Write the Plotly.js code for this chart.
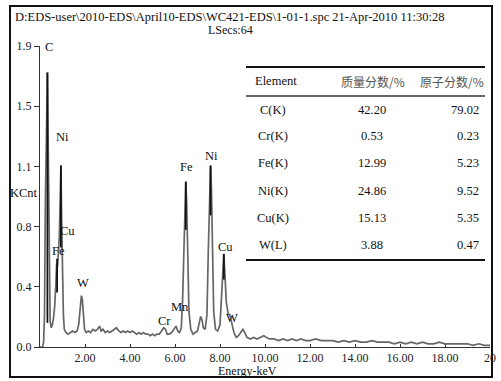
<!DOCTYPE html>
<html>
<head>
<meta charset="utf-8">
<script src="https://cdn.plot.ly/plotly-3.0.1.min.js"></script>
<style>html,body{margin:0;padding:0;background:#fff;}#chart{width:501px;height:381px;}</style>
</head>
<body>
<div id="chart"></div>
<script>
// ---- Data ----
var energy = [0.00,0.12,0.16,0.20,0.24,0.28,0.33,0.37,0.41,0.45,0.50,0.55,0.60,0.65,0.70,0.74,0.78,0.82,0.86,0.90,0.93,0.96,1.00,1.04,1.08,1.15,1.25,1.35,1.45,1.55,1.65,1.72,1.78,1.84,1.88,1.93,1.98,2.05,2.15,2.25,2.35,2.45,2.55,2.65,2.72,2.80,2.90,3.00,3.10,3.20,3.30,3.40,3.50,3.60,3.70,3.80,3.90,4.00,4.10,4.20,4.30,4.40,4.50,4.60,4.70,4.80,4.90,5.00,5.10,5.20,5.30,5.40,5.50,5.58,5.65,5.75,5.85,5.95,6.05,6.12,6.20,6.28,6.34,6.40,6.44,6.48,6.52,6.57,6.62,6.70,6.80,6.90,7.00,7.08,7.14,7.20,7.26,7.34,7.42,7.48,7.53,7.58,7.62,7.67,7.72,7.80,7.90,8.00,8.06,8.12,8.17,8.22,8.28,8.36,8.44,8.52,8.62,8.72,8.82,8.92,9.02,9.10,9.20,9.35,9.50,9.65,9.80,9.95,10.05,10.20,10.40,10.60,10.80,11.00,11.20,11.40,11.60,11.80,12.00,12.25,12.50,12.75,13.00,13.25,13.50,13.75,14.00,14.25,14.50,14.75,15.00,15.25,15.50,15.75,16.00,16.25,16.50,16.75,17.00,17.25,17.50,17.75,18.00,18.25,18.50,18.75,19.00,19.25,19.50,19.75,20.00];
var kcnt = [0.00,0.00,0.03,0.20,0.92,1.40,1.71,1.20,0.45,0.16,0.12,0.14,0.18,0.25,0.38,0.52,0.50,0.60,0.69,0.95,1.13,0.80,0.45,0.20,0.11,0.09,0.08,0.09,0.10,0.09,0.10,0.14,0.25,0.32,0.30,0.18,0.11,0.09,0.10,0.09,0.11,0.10,0.11,0.13,0.10,0.11,0.09,0.10,0.09,0.10,0.11,0.12,0.10,0.09,0.10,0.09,0.10,0.09,0.10,0.09,0.08,0.09,0.08,0.09,0.08,0.08,0.07,0.08,0.07,0.08,0.08,0.10,0.12,0.11,0.08,0.08,0.09,0.11,0.13,0.10,0.09,0.12,0.30,0.62,0.88,1.03,0.90,0.55,0.22,0.11,0.08,0.09,0.10,0.15,0.19,0.17,0.12,0.11,0.20,0.60,0.95,1.13,0.98,0.55,0.22,0.11,0.10,0.14,0.30,0.50,0.58,0.45,0.28,0.21,0.20,0.15,0.09,0.06,0.07,0.09,0.11,0.09,0.06,0.05,0.06,0.05,0.06,0.07,0.06,0.05,0.05,0.04,0.05,0.04,0.05,0.04,0.05,0.04,0.04,0.05,0.04,0.04,0.04,0.03,0.04,0.03,0.04,0.03,0.03,0.04,0.03,0.03,0.03,0.02,0.03,0.02,0.03,0.02,0.03,0.02,0.02,0.03,0.02,0.02,0.02,0.02,0.02,0.01,0.02,0.01,0.01];

// peak marker lines (energy, top, bottom)
var markE   = [0.33, 0.76, 0.93, 6.48, 7.58, 8.17];
var markTop = [1.71, 0.55, 1.13, 1.03, 1.13, 0.58];
var markBot = [0.15, 0.34, 0.62, 0.73, 0.82, 0.42];

// peak labels
var peakLabels = ["C", "Ni", "Cu", "Fe", "W", "Cr", "Mn", "Fe", "Ni", "Cu", "W"];
var peakLabelE = [0.42, 1.00, 1.22, 0.82, 1.92, 5.55, 6.22, 6.53, 7.64, 8.25, 8.55];
var peakLabelY = [1.87, 1.31, 0.72, 0.60, 0.40, 0.16, 0.25, 1.12, 1.19, 0.62, 0.18];

// axis ticks
var yTickVals = [0, 0.375, 0.75, 1.125, 1.5, 1.875];
var yTickText = ["0.0", "0.4", "0.8", "1.1", "1.5", "1.9"];
var xTickVals = [2, 4, 6, 8, 10, 12, 14, 16, 18, 20];
var xTickText = ["2.00", "4.00", "6.00", "8.00", "10.00", "12.00", "14.00", "16.00", "18.00", "20"];

// table
var tblHeader   = ["Element", "质量分数/%", "原子分数/%"];
var tblElements = ["C(K)", "Cr(K)", "Fe(K)", "Ni(K)", "Cu(K)", "W(L)"];
var tblMass     = ["42.20", "0.53", "12.99", "24.86", "15.13", "3.88"];
var tblAtomic   = ["79.02", "0.23", "5.23", "9.52", "5.35", "0.47"];

var titleLine1 = "D:EDS-user\\2010-EDS\\April10-EDS\\WC421-EDS\\1-01-1.spc 21-Apr-2010 11:30:28";
var titleLine2 = "LSecs:64";

// ---- Build ----
var mx = [], my = [];
for (var i = 0; i < markE.length; i++) {
  mx.push(markE[i], markE[i], null);
  my.push(markBot[i], markTop[i], null);
}

var serif = "Liberation Serif, Times New Roman, serif";
var traces = [
  {x: energy, y: kcnt, type: "scatter", mode: "lines",
   line: {color: "#666", width: 1.7}, hoverinfo: "skip", showlegend: false},
  {x: mx, y: my, type: "scatter", mode: "lines",
   line: {color: "#111", width: 1.8}, hoverinfo: "skip", showlegend: false}
];

// pixel -> paper helpers (plot area: x 40..490, y 46..347)
function px(x) { return (x - 40) / 450; }
function py(y) { return (347 - y) / 301; }

var ann = [];
for (var k = 0; k < peakLabels.length; k++) {
  ann.push({x: peakLabelE[k], y: peakLabelY[k], xref: "x", yref: "y", text: peakLabels[k],
            showarrow: false, font: {family: serif, size: 12.5, color: "#111"}});
}
ann.push({x: px(13), y: py(17), xref: "paper", yref: "paper", xanchor: "left", yanchor: "middle",
          text: titleLine1, showarrow: false, font: {family: serif, size: 12.5, color: "#111"}});
ann.push({x: px(230), y: py(30), xref: "paper", yref: "paper", xanchor: "center", yanchor: "middle",
          text: titleLine2, showarrow: false, font: {family: serif, size: 12, color: "#111"}});
ann.push({x: px(24), y: py(193), xref: "paper", yref: "paper", xanchor: "center", yanchor: "middle",
          text: "KCnt", showarrow: false, font: {family: serif, size: 12.5, color: "#111"}});
ann.push({x: px(247), y: py(371), xref: "paper", yref: "paper", xanchor: "center", yanchor: "middle",
          text: "Energy-keV", showarrow: false, font: {family: serif, size: 12, color: "#111"}});

// table header
var cjk = "Noto Sans CJK SC, sans-serif";
ann.push({x: px(253), y: py(81), xref: "paper", yref: "paper", xanchor: "left", yanchor: "middle",
          text: tblHeader[0], showarrow: false, font: {family: serif, size: 12.5, color: "#111"}});
ann.push({x: px(373), y: py(81), xref: "paper", yref: "paper", xanchor: "center", yanchor: "middle",
          text: tblHeader[1], showarrow: false, font: {family: cjk, size: 12, color: "#555"}});
ann.push({x: px(486), y: py(81), xref: "paper", yref: "paper", xanchor: "right", yanchor: "middle",
          text: tblHeader[2], showarrow: false, font: {family: cjk, size: 12, color: "#555"}});
var rowY = [110, 136, 163, 191, 218, 245];
for (var r = 0; r < tblElements.length; r++) {
  ann.push({x: px(273), y: py(rowY[r]), xref: "paper", yref: "paper", xanchor: "center", yanchor: "middle",
            text: tblElements[r], showarrow: false, font: {family: serif, size: 12.5, color: "#111"}});
  ann.push({x: px(372), y: py(rowY[r]), xref: "paper", yref: "paper", xanchor: "center", yanchor: "middle",
            text: tblMass[r], showarrow: false, font: {family: serif, size: 12.5, color: "#111"}});
  ann.push({x: px(481), y: py(rowY[r]), xref: "paper", yref: "paper", xanchor: "right", yanchor: "middle",
            text: tblAtomic[r], showarrow: false, font: {family: serif, size: 12.5, color: "#111"}});
}

var shapes = [
  // outer frame
  {type: "rect", xref: "paper", yref: "paper", x0: px(10), x1: px(492), y0: py(6), y1: py(377),
   line: {color: "#111", width: 2}},
  // table rules
  {type: "line", xref: "paper", yref: "paper", x0: px(246), x1: px(485), y0: py(67), y1: py(67),
   line: {color: "#111", width: 2}},
  {type: "line", xref: "paper", yref: "paper", x0: px(246), x1: px(485), y0: py(96), y1: py(96),
   line: {color: "#333", width: 1.5}},
  {type: "line", xref: "paper", yref: "paper", x0: px(246), x1: px(485), y0: py(260), y1: py(260),
   line: {color: "#111", width: 2}}
];

var layout = {
  width: 501, height: 381,
  margin: {l: 40, r: 11, t: 46, b: 34, pad: 0},
  paper_bgcolor: "#fff", plot_bgcolor: "#fff",
  showlegend: false,
  xaxis: {range: [0, 20], showgrid: false, zeroline: false, showline: true, linecolor: "#333", linewidth: 1,
          ticks: "inside", ticklen: 3, tickcolor: "#333", tickvals: xTickVals, ticktext: xTickText,
          tickfont: {family: serif, size: 12, color: "#222"}, fixedrange: true},
  yaxis: {range: [0, 1.875], showgrid: false, zeroline: false, showline: true, linecolor: "#333", linewidth: 1,
          ticks: "outside", ticklen: 5, tickcolor: "#333", tickvals: yTickVals, ticktext: yTickText,
          tickfont: {family: serif, size: 12, color: "#222"}, fixedrange: true},
  annotations: ann,
  shapes: shapes
};

Plotly.newPlot("chart", traces, layout, {staticPlot: true, displayModeBar: false});
</script>
</body>
</html>
